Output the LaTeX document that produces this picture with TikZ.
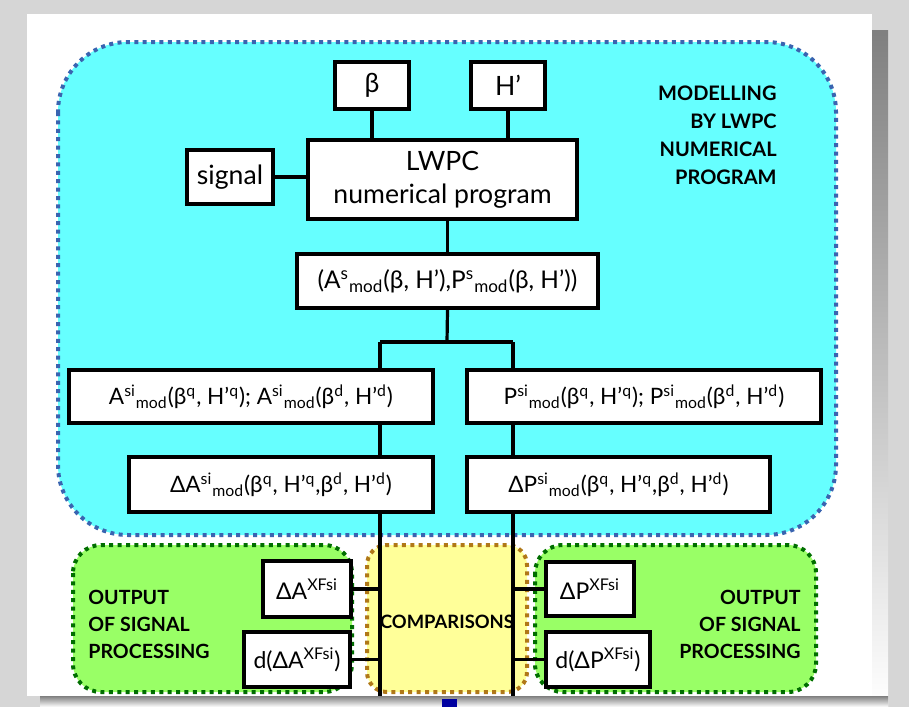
\documentclass[tikz,border=0pt]{standalone}
\usepackage{fontspec}
\setmainfont{Lato}
\usetikzlibrary{positioning,calc}

\definecolor{marble}{HTML}{D6D6D6}
\definecolor{shade}{HTML}{808080}
\definecolor{skyfill}{HTML}{66FFFF}
\definecolor{skyline}{HTML}{3A64B0}
\definecolor{leaffill}{HTML}{99FF66}
\definecolor{leafline}{HTML}{006E00}
\definecolor{sandfill}{HTML}{FFFF99}
\definecolor{sandline}{HTML}{B07818}
\definecolor{inkblue}{HTML}{0000A0}

\newcommand{\Smod}[1]{\textsuperscript{#1}\textsubscript{mod}}

\begin{document}
\begin{tikzpicture}[x=0.5pt,y=-0.5pt,
    box/.style={draw,fill=white,line width=2pt,inner sep=2pt,align=center,
                font=\fontsize{13.3}{16.5}\selectfont},
    formula/.style={box,font=\fontsize{11.3}{13}\selectfont},
    xfbox/.style={box,font=\fontsize{11.5}{13}\selectfont},
    wire/.style={line width=1.6pt},
    tag/.style={inner sep=0pt,font=\bfseries\fontsize{10}{14}\selectfont},
    zone/.style={line width=2pt,dash pattern=on 2pt off 2.2pt}
  ]
  \useasboundingbox (0,0) rectangle (909,707);
  \fill[marble] (0,0) rectangle (909,707);
  \fill[shade] (872,30) rectangle (888,707);
  \fill[shade] (40,696) rectangle (888,707);
  \fill[white] (27,14) rectangle (872,696);
  \fill[inkblue] (442,699) rectangle (457,707);

  % regions
  \draw[zone,draw=skyline,fill=skyfill,rounded corners=35pt] (58,42) rectangle (836,535);
  \draw[zone,draw=leafline,fill=leaffill,rounded corners=14pt] (73,545) rectangle (352,692);
  \draw[zone,draw=sandline,fill=sandfill,rounded corners=10pt] (367,545) rectangle (527,692);
  \draw[zone,draw=leafline,fill=leaffill,rounded corners=14pt] (535,545) rectangle (816,692);

  \node[tag,align=right,anchor=east] (model) at (777,135) {MODELLING\\BY LWPC\\NUMERICAL\\PROGRAM};
  \node[tag,align=left,anchor=west,font=\bfseries\fontsize{9.8}{13.5}\selectfont] (outl) at (88,624) {OUTPUT\\OF SIGNAL\\PROCESSING};
  \node[tag,align=right,anchor=east,font=\bfseries\fontsize{9.8}{13.5}\selectfont] (outr) at (801,624) {OUTPUT\\OF SIGNAL\\PROCESSING};
  \node[tag,font=\bfseries\fontsize{9.2}{11}\selectfont] (comp) at (447,622) {COMPARISONS};

  \node[box,minimum width=37pt,minimum height=23.5pt] (beta) at (372,85.5) {β};
  \node[box,minimum width=37pt,minimum height=23.5pt] (hpr) at (508,85.5) {H’};
  \node[box,minimum width=134.5pt,minimum height=39.5pt] (lwpc) at (442.5,179.5) {LWPC\\numerical program};
  \node[box,minimum width=43pt,minimum height=27pt] (signal) at (230,177) {signal};
  \node[formula,minimum width=150.5pt,minimum height=27pt,font=\fontsize{12.2}{14}\selectfont] (ampl) at (447.5,281)
    {(A\Smod{s}(β, H’),P\Smod{s}(β, H’))};
  \node[formula,minimum width=182pt,minimum height=26.5pt] (asi) at (251,396.5)
    {A\Smod{si}(β\textsuperscript{q}, H’\textsuperscript{q}); A\Smod{si}(β\textsuperscript{d}, H’\textsuperscript{d})};
  \node[formula,minimum width=177pt,minimum height=26.5pt] (psi) at (644,396.5)
    {P\Smod{si}(β\textsuperscript{q}, H’\textsuperscript{q}); P\Smod{si}(β\textsuperscript{d}, H’\textsuperscript{d})};
  \node[formula,minimum width=152pt,minimum height=27.5pt] (dasi) at (281,484.5)
    {ΔA\Smod{si}(β\textsuperscript{q}, H’\textsuperscript{q},β\textsuperscript{d}, H’\textsuperscript{d})};
  \node[formula,minimum width=151.5pt,minimum height=27.5pt] (dpsi) at (618.5,484.5)
    {ΔP\Smod{si}(β\textsuperscript{q}, H’\textsuperscript{q},β\textsuperscript{d}, H’\textsuperscript{d})};
  \node[xfbox,minimum width=44pt,minimum height=28pt] (axf) at (307,589) {ΔA\textsuperscript{XFsi}};
  \node[xfbox,minimum width=53pt,minimum height=27.5pt] (daxf) at (297,659.5) {d(ΔA\textsuperscript{XFsi})};
  \node[xfbox,minimum width=44pt,minimum height=27pt] (pxf) at (590,589) {ΔP\textsuperscript{XFsi}};
  \node[xfbox,minimum width=52pt,minimum height=27.5pt] (dpxf) at (598,659.5) {d(ΔP\textsuperscript{XFsi})};

  \coordinate (fork) at (447,342);
  \coordinate (lfork) at (380,342);
  \coordinate (rfork) at (513,342);
  \coordinate (lend) at (380,696);
  \coordinate (rend) at (513,696);

  \path[wire]
      (beta) edge (beta |- lwpc.north)
      (hpr) edge (hpr |- lwpc.north)
      (signal.east) edge (signal.east -| lwpc.west)
      (ampl.north) edge (ampl.north |- lwpc.south)
      (ampl.south) edge (fork)
      (lfork) edge (rfork)
      (lfork) edge (lfork |- asi.north)
      (rfork) edge (rfork |- psi.north)
      (lfork |- asi.south) edge (lfork |- dasi.north)
      (rfork |- psi.south) edge (rfork |- dpsi.north)
      (lfork |- dasi.south) edge (lend)
      (rfork |- dpsi.south) edge (rend)
      (axf.east) edge (axf.east -| lend)
      (daxf.east) edge (daxf.east -| lend)
      (pxf.west) edge (pxf.west -| rend)
      (dpxf.west) edge (dpxf.west -| rend);
\end{tikzpicture}
\end{document}
